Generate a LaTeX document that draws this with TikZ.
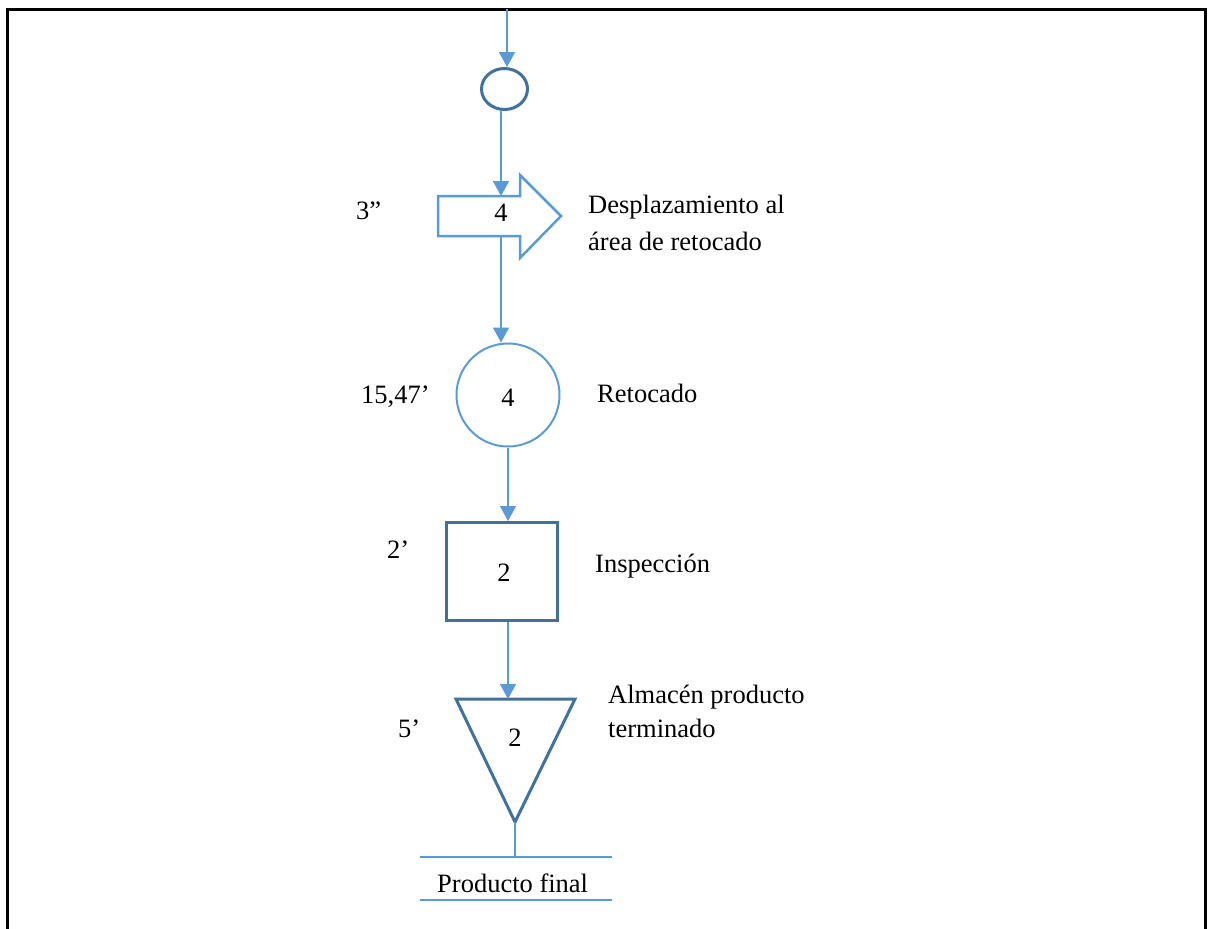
\documentclass[tikz,border=0pt]{standalone}
\usepackage{fontspec}
\setmainfont{Liberation Serif}
\usetikzlibrary{arrows.meta,shapes.geometric}
\definecolor{lb}{RGB}{91,155,213}
\definecolor{db}{RGB}{65,113,156}
\begin{document}
\begin{tikzpicture}[x=1pt,y=-1pt,
  every node/.style={font=\fontsize{26.5}{36}\selectfont},
  conn/.style={draw=lb,line width=1.5pt,-{Triangle[width=16pt,length=15pt]}},
  plain/.style={draw=lb,line width=1.5pt},
  txt/.style={anchor=base west,inner sep=0pt},
  num/.style={inner sep=0pt}]
\useasboundingbox (0,0) rectangle (1208,929);
% frame
\draw[black,line width=3pt] (7,935) -- (7,9) -- (1205,9) -- (1205,935);
% shapes
\coordinate (top) at (507,9);
\node[draw=db,line width=3pt,ellipse,minimum width=46pt,minimum height=41pt,inner sep=0pt] (sc) at (504.5,89) {};
% block arrow
\draw[draw=lb,line width=2.5pt,fill=white] (438,196) -- (520,196) -- (520,175) -- (561,216) -- (520,258) -- (520,236) -- (438,236) -- cycle;
\coordinate (arrtop) at (501,196);
\coordinate (arrbot) at (501,236);
\node[num] (arr) at (501,213) {4};
\node[draw=lb,line width=2pt,circle,minimum size=103pt,inner sep=0pt] (bc) at (508,395) {};
\node[num] at (508,398) {4};
\node[draw=db,line width=3pt,rectangle,minimum width=111pt,minimum height=98pt,inner sep=0pt] (sq) at (502,571.5) {};
\node[num] at (504,573) {2};
\coordinate (tl) at (456,699);
\coordinate (tr) at (575,699);
\coordinate (tb) at (515,822);
\draw[draw=db,line width=3pt,line join=miter] (tl) -- (tr) -- (tb) -- cycle;
\coordinate (ttop) at (508,699);
\node[num] at (515,738) {2};
% connectors
\coordinate (scb) at (501,110);
\draw[conn] (top) -- (top |- sc.north);
\draw[conn] (scb) -- (arrtop);
\draw[conn] (arrbot) -- (arrbot |- bc.north);
\draw[conn] (bc.south) -- (sq.north -| bc.south);
\draw[conn] (sq.south -| bc.south) -- (ttop);
\coordinate (fin) at (515,857);
\draw[plain] (tb) -- (fin);
\coordinate (l1a) at (420,857); \coordinate (l1b) at (612,857);
\coordinate (l2a) at (420,900); \coordinate (l2b) at (612,900);
\draw[plain,line width=1.2pt] (l1a) -- (l1b);
\draw[plain,line width=1.2pt] (l2a) -- (l2b);
% labels
\node[txt] at (437,892) {Producto final};
\node[txt] at (356,219) {3”};
\node[txt] at (361,403) {15,47’};
\node[txt] at (387,558) {2’};
\node[txt] at (398,737) {5’};
\node[txt] at (588,213) {Desplazamiento al};
\node[txt] at (588,250) {área de retocado};
\node[txt] at (597,402) {Retocado};
\node[txt] at (595,572) {Inspección};
\node[txt] at (608,703) {Almacén producto};
\node[txt] at (608,737) {terminado};
\end{tikzpicture}
\end{document}
